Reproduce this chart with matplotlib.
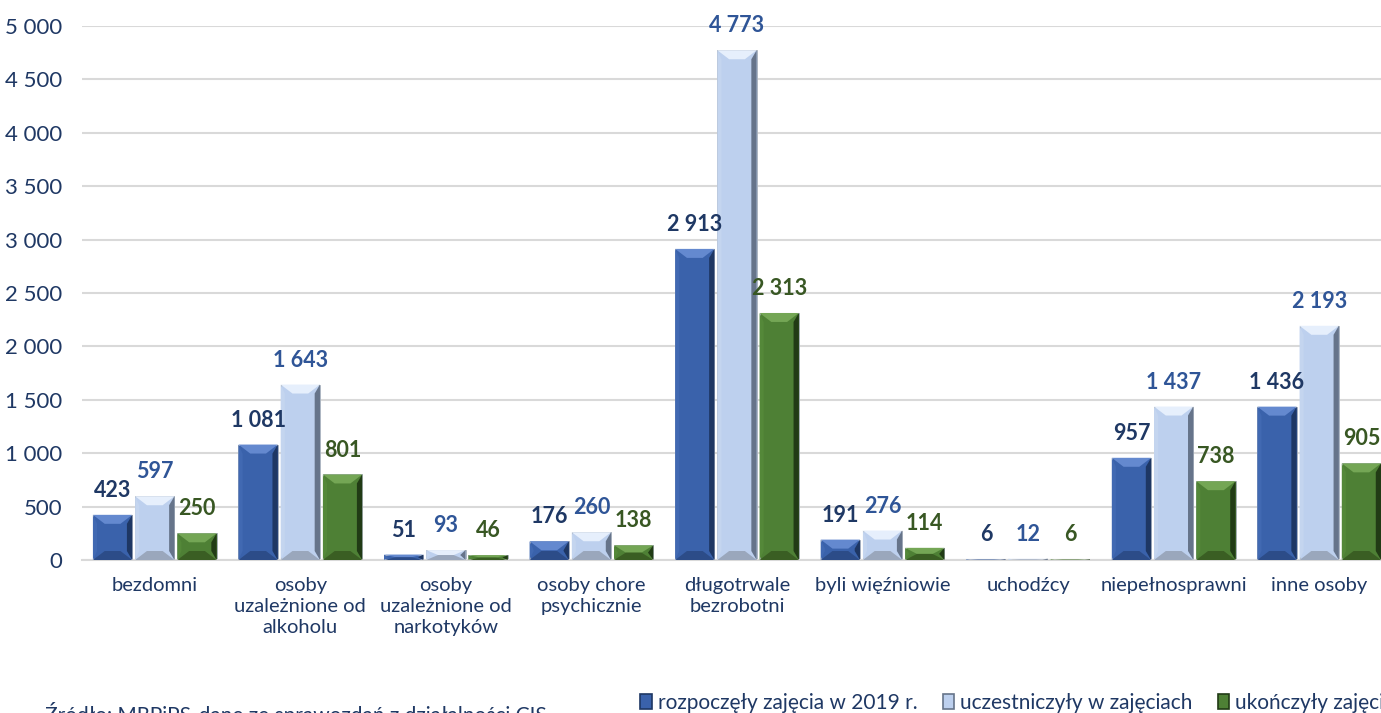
import numpy as np
from matplotlib import pyplot as plt

plt.rcParams['font.family'] = ['Lato', 'DejaVu Sans']

categories = ['bezdomni', 'osoby\nuzależnione od\nalkoholu', 'osoby\nuzależnione od\nnarkotyków',
              'osoby chore\npsychicznie', 'długotrwale\nbezrobotni', 'byli więźniowie',
              'uchodźcy', 'niepełnosprawni', 'inne osoby']
rozpoczely = [423, 1081, 51, 176, 2913, 191, 6, 957, 1436]
uczestniczyly = [597, 1643, 93, 260, 4773, 276, 12, 1437, 2193]
ukonczyly = [250, 801, 46, 138, 2313, 114, 6, 738, 905]
series_names = ['rozpoczęły zajęcia w 2019 r.', 'uczestniczyły w zajęciach', 'ukończyły zajęcia']
y_ticks = [0, 500, 1000, 1500, 2000, 2500, 3000, 3500, 4000, 4500, 5000]

# face, top, left, right, bottom
SHADES = [
    ('#3A62AB', '#6489CF', '#4169B2', '#1E3764', '#2C4C88'),
    ('#BDD0EE', '#E6EFFC', '#C4D5EF', '#66748A', '#9AA7BC'),
    ('#4E8035', '#74A655', '#548839', '#213B15', '#3A5E23'),
]
LABEL_COLORS = ['#1F3864', '#2F5597', '#385723']
TEXT_COLOR = '#1F3864'

W, H = 1381, 713
fig = plt.figure(figsize=(W / 100, H / 100), dpi=100)
# chart is cropped on the right in the source, so the axes runs past the figure edge
left, right = 82 / W, 1392 / W
bottom, top = 1 - 560 / H, 1 - 26 / H
ax = fig.add_axes([left, bottom, right - left, top - bottom])

x = np.arange(len(categories))
step = 0.29
bw = 0.27
px_per_unit = (560 - 26) / 5000.0

for i, vals in enumerate([rozpoczely, uczestniczyly, ukonczyly]):
    face, c_top, c_left, c_right, c_bot = SHADES[i]
    bars = ax.bar(x + (i - 1) * step, vals, width=bw, color=face,
                  edgecolor='#A6AEBA', linewidth=0.6, zorder=2)
    for b, v in zip(bars, vals):
        x0, x1 = b.get_x(), b.get_x() + b.get_width()
        h = b.get_height()
        dx = b.get_width() * 0.3
        dh = min(9 / px_per_unit, h / 2)
        # bevel facets
        ax.fill([x0, x1, x1 - dx, x0 + dx], [h, h, h - dh, h - dh], color=c_top, lw=0, zorder=3)
        ax.fill([x0, x1, x1 - dx, x0 + dx], [0, 0, dh, dh], color=c_bot, lw=0, zorder=3)
        ax.fill([x0, x0 + dx * 0.35, x0 + dx * 0.35, x0], [0, dh, h - dh, h], color=c_left, lw=0, zorder=3)
        ax.fill([x1, x1 - dx * 0.45, x1 - dx * 0.45, x1], [0, dh, h - dh, h], color=c_right, lw=0, zorder=3)
        ax.annotate('{:,}'.format(v).replace(',', ' '), (b.get_x() + b.get_width() / 2, h),
                    xytext=(0, 10), textcoords='offset points', ha='center', va='bottom',
                    fontsize=15.5, fontweight='bold', color=LABEL_COLORS[i], zorder=4)
    bars.set_label(series_names[i])

ax.set_xlim(-0.5, len(categories) - 0.5)
ax.set_ylim(0, 5000)
ax.set_yticks(y_ticks)
ax.set_yticklabels(['{:,}'.format(t).replace(',', ' ') for t in y_ticks])
ax.set_xticks(x)
ax.set_xticklabels(categories, linespacing=1.3)
ax.tick_params(axis='both', length=0, colors=TEXT_COLOR)
ax.tick_params(axis='y', labelsize=16, pad=14)
ax.tick_params(axis='x', labelsize=14.5, pad=12)
ax.grid(axis='y', color='#D9D9D9', linewidth=1.5, zorder=0)
ax.set_axisbelow(True)
for s in ['top', 'right', 'left']:
    ax.spines[s].set_visible(False)
ax.spines['bottom'].set_color('#D9D9D9')
ax.spines['bottom'].set_linewidth(1.5)

handles = [plt.Rectangle((0, 0), 1, 1, facecolor=SHADES[i][0], edgecolor=SHADES[i][3], lw=1.2)
           for i in range(3)]
fig.legend(handles, series_names, loc='center left', bbox_to_anchor=(632 / W, 1 - 703 / H),
           ncol=3, frameon=False, fontsize=15, handlelength=0.55, handleheight=0.75,
           handletextpad=0.3, columnspacing=1.2, labelcolor=TEXT_COLOR, borderaxespad=0)

fig.text(45 / W, 1 - 722 / H, 'Źródło: MRPiPS-dane ze sprawozdań z działalności CIS',
         ha='left', va='baseline', fontsize=15, color=TEXT_COLOR)

fig.savefig('out.png', dpi=100)
